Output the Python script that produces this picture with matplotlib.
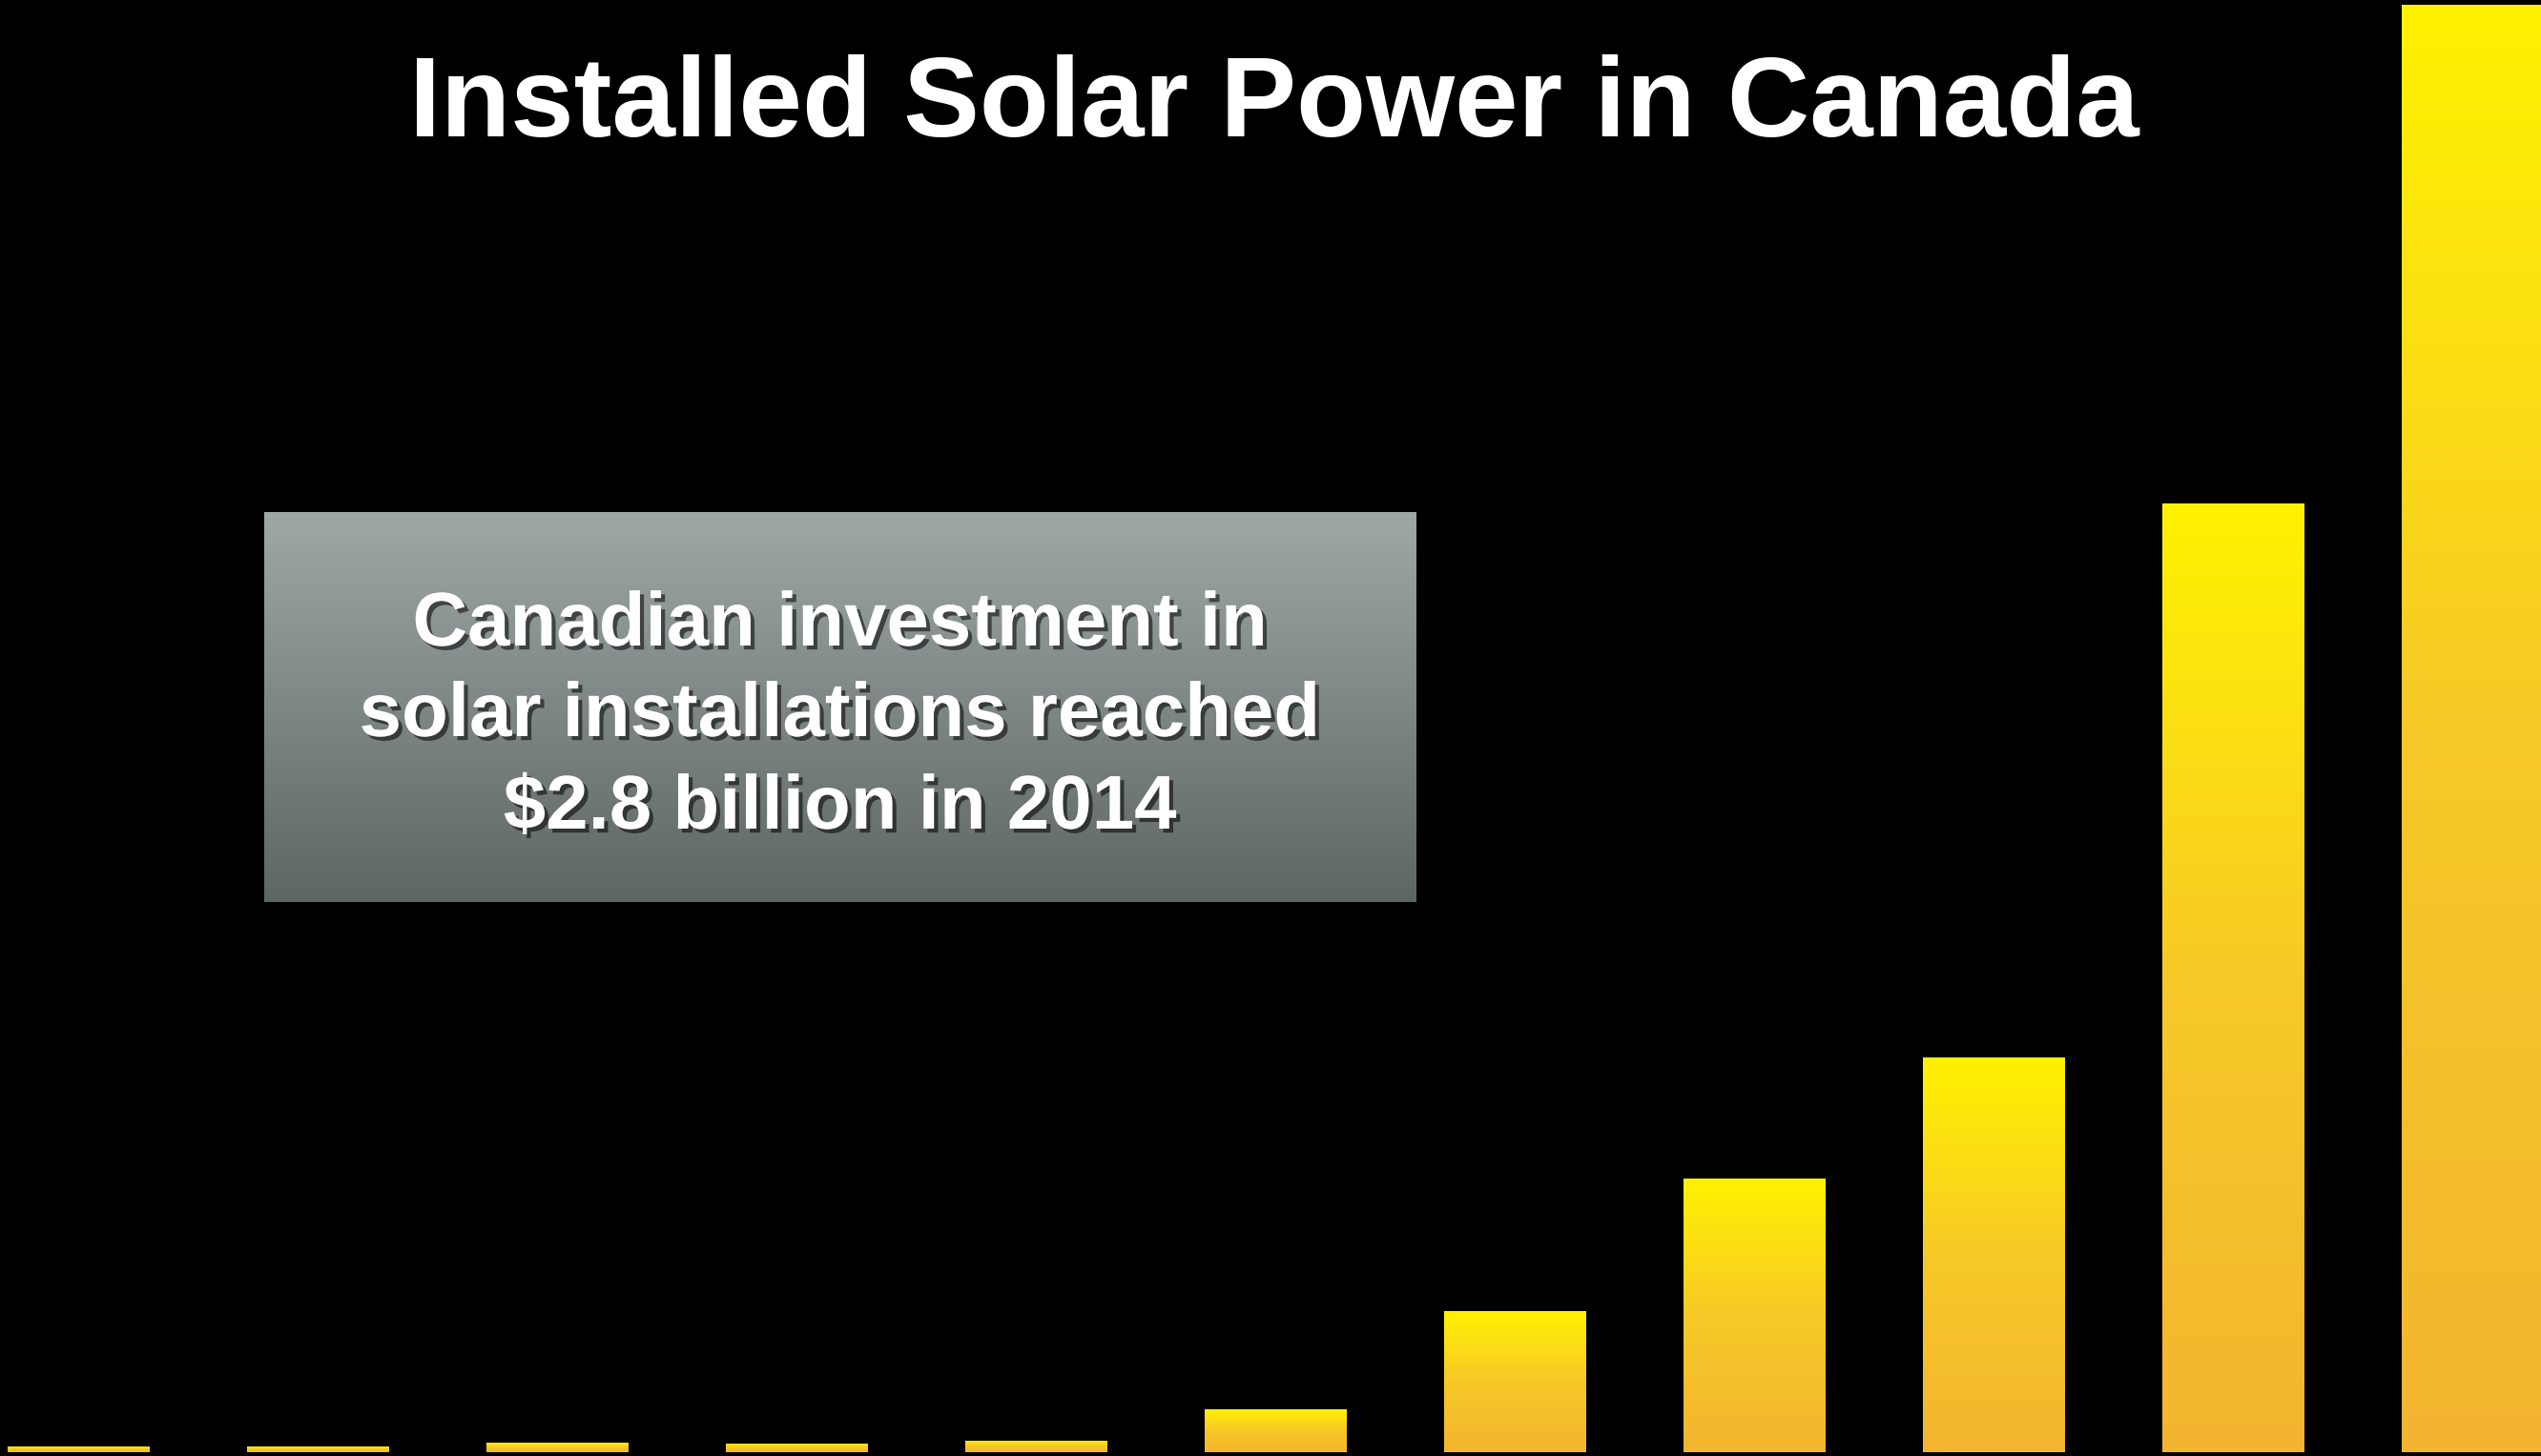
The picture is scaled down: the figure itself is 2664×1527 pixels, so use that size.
import numpy as np
import matplotlib
matplotlib.use('Agg')
import matplotlib.pyplot as plt
import matplotlib.patheffects as pe
from matplotlib.colors import LinearSegmentedColormap

# installed capacity (MW)
years = ['2004', '2005', '2006', '2007', '2008', '2009',
         '2010', '2011', '2012', '2013', '2014']
capacity = [7, 7, 12, 11, 15, 55, 180, 348, 503, 1208, 1843]

title = 'Installed Solar Power in Canada'
callout = ['Canadian investment in',
           'solar installations reached',
           '$2.8 billion in 2014']

W, H = 2664, 1527
DPI = 100

plt.rcParams['font.family'] = ['Liberation Sans', 'DejaVu Sans']

fig = plt.figure(figsize=(W / DPI, H / DPI), dpi=DPI, facecolor='black')

# bars axes
ax = fig.add_axes([0, 4 / H, 1, (H - 4) / H])
ax.set_facecolor('black')
x = np.arange(len(years))
bar_w = 149 / 251
bars = ax.bar(x, capacity, width=bar_w, color='#F3B530', edgecolor='none')
ax.set_xlim(-82.5 / 251, (W - 82.5) / 251)
ax.set_ylim(0, max(capacity) * (H - 4) / (H - 9))
ax.axis('off')

bar_cmap = LinearSegmentedColormap.from_list('sun', ['#F3B530', '#F7C927', '#FFF200'])
grad = np.linspace(0, 1, 256).reshape(-1, 1)
for b in bars:
    x0, y0 = b.get_x(), b.get_y()
    im = ax.imshow(grad, cmap=bar_cmap, origin='lower', aspect='auto',
                   extent=(x0, x0 + b.get_width(), y0, y0 + b.get_height()),
                   interpolation='bicubic', zorder=2)
    im.set_clip_path(b)
ax.set_xlim(-82.5 / 251, (W - 82.5) / 251)
ax.set_ylim(0, max(capacity) * (H - 4) / (H - 9))

# grey callout box
bx0, bx1, by0, by1 = 277, 1485, 537, 946
box_ax = fig.add_axes([bx0 / W, 1 - by1 / H, (bx1 - bx0) / W, (by1 - by0) / H])
box_cmap = LinearSegmentedColormap.from_list('box', ['#5E6664', '#9EA8A6'])
box_ax.imshow(grad, cmap=box_cmap, origin='lower', aspect='auto', extent=(0, 1, 0, 1))
box_ax.axis('off')

shadow = [pe.SimplePatchShadow(offset=(3, -3), shadow_rgbFace='black', alpha=0.55),
          pe.Normal()]
for line, base in zip(callout, [677, 772, 869]):
    fig.text(881 / W, 1 - base / H, line, ha='center', va='baseline',
             fontsize=57.5, fontweight='bold', color='white', path_effects=shadow)

fig.text(1336 / W, 1 - 143 / H, title, ha='center', va='baseline',
         fontsize=86, fontweight='bold', color='white')

fig.savefig('out.png', dpi=DPI, facecolor='black')
